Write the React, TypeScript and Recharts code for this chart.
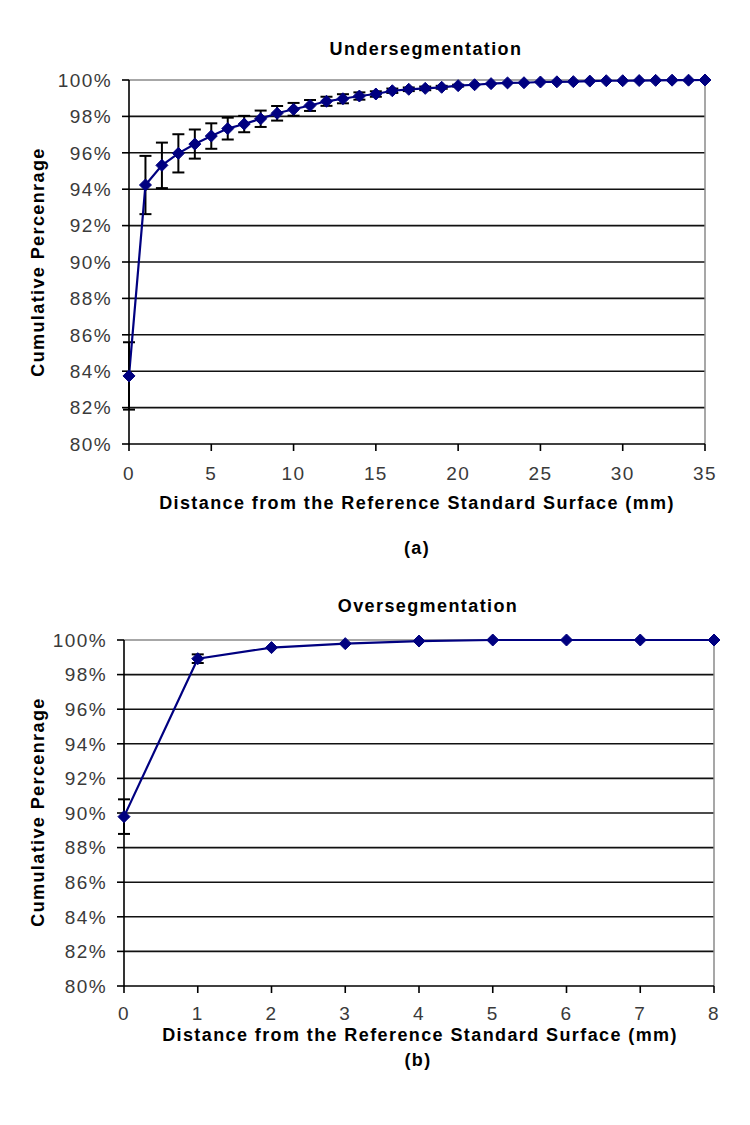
import React from "react";
import { LineChart, Line, XAxis, YAxis, CartesianGrid, ErrorBar, ReferenceLine } from "recharts";

// (a) Undersegmentation
const underDistance = [
  0, 1, 2, 3, 4, 5, 6, 7, 8, 9, 10, 11, 12, 13, 14, 15, 16, 17, 18, 19, 20, 21, 22, 23, 24, 25, 26, 27, 28, 29,
  30, 31, 32, 33, 34, 35
];
const underPercent = [
  83.74, 94.23, 95.31, 95.97, 96.48, 96.92, 97.33, 97.58, 97.87, 98.17, 98.39, 98.6, 98.83, 98.97, 99.12, 99.23,
  99.41, 99.49, 99.54, 99.6, 99.69, 99.74, 99.8, 99.84, 99.85, 99.89, 99.9, 99.91, 99.94, 99.96, 99.96, 99.97,
  99.98, 99.99, 99.99, 100
];
const underError = [
  1.85, 1.6, 1.25, 1.05, 0.8, 0.7, 0.6, 0.45, 0.45, 0.4, 0.35, 0.3, 0.25, 0.25, 0.2, 0.15, 0.12, 0.1, 0.1, 0.08,
  0.05, 0, 0, 0, 0, 0, 0, 0, 0, 0, 0, 0, 0, 0, 0, 0
];
const underTicks = [0, 5, 10, 15, 20, 25, 30, 35];

// (b) Oversegmentation
const overDistance = [0, 1, 2, 3, 4, 5, 6, 7, 8];
const overPercent = [89.79, 98.92, 99.56, 99.79, 99.94, 100, 100, 100, 100];
const overError = [1.0, 0.25, 0, 0, 0, 0, 0, 0, 0];
const overTicks = [0, 1, 2, 3, 4, 5, 6, 7, 8];

const yTicks = [80, 82, 84, 86, 88, 90, 92, 94, 96, 98, 100];
const innerGrid = [82, 84, 86, 88, 90, 92, 94, 96, 98];

const FONT = '"Liberation Sans", Arial, sans-serif';
const NAVY = "#000080";

const Diamond = (props: any) => {
  const { cx, cy } = props;
  if (cx == null || cy == null) return null;
  const r = 6;
  return (
    <polygon
      key={`d-${cx}-${cy}`}
      points={`${cx},${cy - r} ${cx + r},${cy} ${cx},${cy + r} ${cx - r},${cy}`}
      fill={NAVY}
      stroke={NAVY}
      strokeWidth={1}
    />
  );
};

const pct = (v: number) => `${v}%`;

function Label({ x, y, text, bold = true, rotate = false, size = 18 }: any) {
  return (
    <div
      style={{
        position: "absolute",
        left: x,
        top: y,
        transform: `translate(-50%, -50%)${rotate ? " rotate(-90deg)" : ""}`,
        whiteSpace: "nowrap",
        fontWeight: bold ? "bold" : "normal",
        fontSize: size,
        letterSpacing: "1.4px",
        color: "#000"
      }}
    >
      {text}
    </div>
  );
}

function CumulativeChart({ data, xMax, xTicks, height, margin, tickMarginX }: any) {
  return (
    <LineChart width={750} height={height} data={data} margin={margin}>
      <CartesianGrid horizontal vertical={false} horizontalValues={innerGrid} stroke="#111" strokeWidth={1.6} />
      <ReferenceLine y={100} stroke="#8a8a8a" strokeWidth={1.5} />
      <ReferenceLine x={xMax} stroke="#8a8a8a" strokeWidth={1.5} />
      <XAxis
        type="number"
        dataKey="x"
        domain={[0, xMax]}
        ticks={xTicks}
        interval={0}
        height={30}
        tickSize={7}
        tickMargin={tickMarginX}
        axisLine={{ stroke: "#000", strokeWidth: 1.6 }}
        tickLine={{ stroke: "#000", strokeWidth: 1.6 }}
        tick={{ fontSize: 19, fill: "#3a3a3a", fontFamily: FONT }}
      />
      <YAxis
        type="number"
        domain={[80, 100]}
        ticks={yTicks}
        interval={0}
        width={60}
        tickSize={7}
        tickMargin={10}
        tickFormatter={pct}
        axisLine={{ stroke: "#000", strokeWidth: 1.6 }}
        tickLine={{ stroke: "#000", strokeWidth: 1.6 }}
        tick={{ fontSize: 19, fill: "#3a3a3a", fontFamily: FONT }}
      />
      <Line
        type="linear"
        dataKey="y"
        stroke={NAVY}
        strokeWidth={2.2}
        dot={<Diamond />}
        activeDot={false}
        isAnimationActive={false}
      >
        <ErrorBar dataKey="err" direction="y" width={6} stroke="#000" strokeWidth={2} />
      </Line>
    </LineChart>
  );
}

export default function App() {
  const underData = underDistance.map((x, i) => ({ x, y: underPercent[i], err: underError[i] }));
  const overData = overDistance.map((x, i) => ({ x, y: overPercent[i], err: overError[i] }));

  return (
    <div
      style={{
        position: "absolute",
        left: 0,
        top: 0,
        width: 750,
        height: 1125,
        background: "#fff",
        fontFamily: FONT,
        letterSpacing: "1.4px"
      }}
    >
      <div style={{ position: "absolute", left: 0, top: 0 }}>
        <CumulativeChart
          data={underData}
          xMax={35}
          xTicks={underTicks}
          height={560}
          margin={{ top: 80, right: 45, left: 69, bottom: 86 }}
          tickMarginX={16}
        />
      </div>
      <div style={{ position: "absolute", left: 0, top: 560 }}>
        <CumulativeChart
          data={overData}
          xMax={8}
          xTicks={overTicks}
          height={565}
          margin={{ top: 80, right: 36, left: 64, bottom: 109 }}
          tickMarginX={14}
        />
      </div>

      <Label x={426} y={49} text="Undersegmentation" />
      <Label x={38} y={262} text="Cumulative Percenrage" rotate />
      <Label x={417} y={503} text="Distance from the Reference Standard Surface (mm)" />
      <Label x={417} y={548} text="(a)" />

      <Label x={428} y={606} text="Oversegmentation" />
      <Label x={38} y={812} text="Cumulative Percenrage" rotate />
      <Label x={420} y={1035} text="Distance from the Reference Standard Surface (mm)" />
      <Label x={418} y={1060} text="(b)" />
    </div>
  );
}
